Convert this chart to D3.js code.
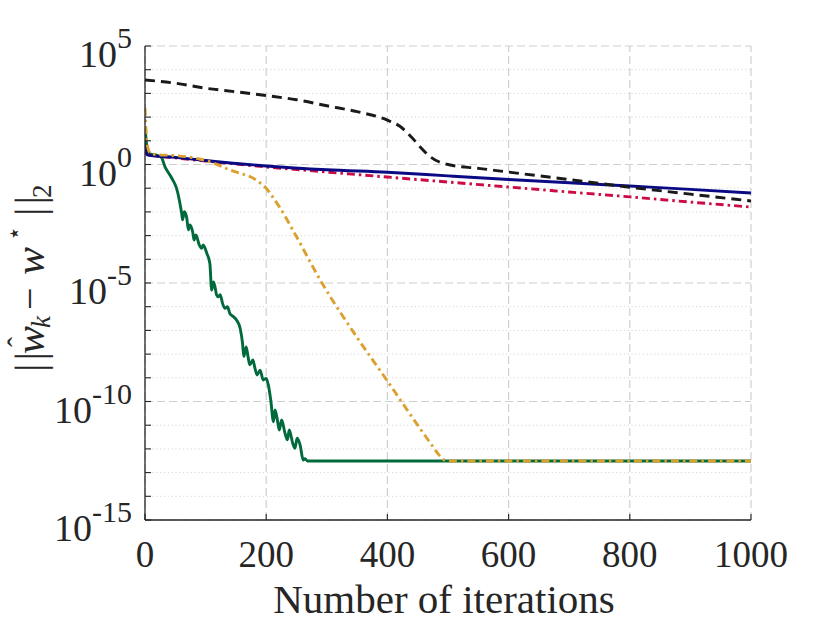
<!DOCTYPE html>
<html>
<head>
<meta charset="utf-8">
<script src="https://cdn.jsdelivr.net/npm/d3@7"></script>
<style>
  body { margin: 0; background: #fff; }
  svg { display: block; }
</style>
</head>
<body>
<div id="chart"></div>
<script>
// Chart size
const width = 830;
const height = 623;
const margin = { top: 46, right: 79, bottom: 103, left: 145 };
const fontFamily = "'Liberation Serif', 'DejaVu Serif', Times, serif";

// Tick values
const xTicks = [0, 200, 400, 600, 800, 1000];
const yMajorExp = [5, 0, -5, -10, -15];
const yMinorExp = d3.range(-15, 6);

// Series: [iteration, error]
const blackDashed = [
  [0, 3700], [50, 2700], [100, 1660], [150, 1170], [200, 810], [250, 540],
  [300, 300], [350, 170], [400, 74], [420, 42], [440, 14], [455, 5.2],
  [470, 2.2], [485, 1.3], [500, 1.0], [550, 0.69], [600, 0.48], [700, 0.23],
  [800, 0.11], [900, 0.056], [1000, 0.029]
];

const blueSolid = [
  [0, 7.1], [2, 3.2], [5, 2.5], [50, 2.0], [100, 1.48], [200, 0.87],
  [300, 0.6], [400, 0.47], [500, 0.33], [600, 0.234], [700, 0.17],
  [800, 0.123], [900, 0.089], [1000, 0.063]
];

const redDashDot = [
  [0, 3.2], [5, 2.6], [50, 1.9], [100, 1.41], [200, 0.79], [300, 0.48],
  [400, 0.295], [500, 0.182], [600, 0.112], [700, 0.069], [800, 0.043],
  [900, 0.026], [1000, 0.016]
];

const orangeDashDot = [
  [0, 250], [2, 20], [4, 6.3], [7, 3.5], [12, 2.8], [20, 2.6], [46, 2.4],
  [70, 2.1], [90, 1.7], [113, 1.15], [140, 0.59], [160, 0.4], [178, 0.27],
  [190, 0.166], [200, 0.1], [210, 0.045], [222, 0.016], [244, 1.7e-3],
  [292, 1e-5], [350, 5e-8], [399, 8e-10], [450, 1e-11], [475, 1.26e-12],
  [485, 5.6e-13], [495, 3.3e-13], [505, 3.1e-13], [1000, 3.1e-13]
];

const greenSolid = [
  [0, 40], [2, 10], [4, 4], [8, 2.8], [20, 2.4], [27, 2.0], [33, 0.8],
  [40, 0.4], [46, 0.22], [52, 0.1], [56.6, 0.032], [60.5, 8.7e-3],
  [62, 4.6e-3], [65, 1.02e-2], [69, 5.4e-3], [71.5, 1.74e-3], [74, 2.8e-3],
  [79, 1.29e-3], [81, 6.5e-4], [84, 1.07e-3], [89.6, 4e-4], [93.5, 2.9e-4],
  [96, 4e-4], [102, 1.78e-4], [107, 6.8e-5], [110, 5e-6], [113, 1.12e-5],
  [115.5, 6.9e-6], [118, 3.2e-6], [121, 2.6e-6], [124, 3.2e-6], [128, 1.38e-6],
  [132, 8.5e-7], [136, 1e-6], [140, 5.2e-7], [146, 3.8e-7], [151, 2.75e-7],
  [157, 1.23e-7], [161, 2.8e-8], [163, 7.9e-9], [167, 2e-8], [170, 7.8e-9],
  [173, 3.5e-9], [178, 5.6e-9], [181.5, 2.5e-9], [185, 1.32e-9], [190, 2.1e-9],
  [195, 8.1e-10], [200, 9.5e-10], [203.5, 5e-10], [207.5, 1.15e-10],
  [212, 1.4e-11], [214.5, 4.4e-11], [218, 1.95e-11], [221.6, 6.3e-12],
  [225.5, 1.66e-11], [231, 4.6e-12], [235, 2.4e-12], [238, 6.3e-12],
  [243.7, 1.74e-12], [247.5, 1.07e-12], [251, 2.8e-12], [256, 1.45e-12],
  [261, 3.4e-13], [264, 3.9e-13], [268, 3.1e-13], [1000, 3.1e-13]
];

// Colours
const cBlack = "#1a1a1a";
const cBlue = "#0a0a84";
const cRed = "#cc0a44";
const cOrange = "#dba12f";
const cGreen = "#006a3c";
const axisColor = "#262626";
const gridColor = "#cfcfcf";

const svg = d3.select('#chart')
    .append('svg')
    .attr('width', width)
    .attr('height', height)
    .attr('font-family', fontFamily)
    .style('font-family', fontFamily);

const innerW = width - margin.left - margin.right;
const innerH = height - margin.top - margin.bottom;

const x = d3.scaleLinear().domain([0, 1000]).range([margin.left, margin.left + innerW]);
const y = d3.scaleLog().domain([1e-15, 1e5]).range([margin.top + innerH, margin.top]);

// Minor grid (every decade, dotted)
svg.append('g')
    .selectAll('line')
    .data(yMinorExp.filter(e => e % 5 !== 0))
    .join('line')
      .attr('x1', x(0)).attr('x2', x(1000))
      .attr('y1', e => y(Math.pow(10, e))).attr('y2', e => y(Math.pow(10, e)))
      .attr('stroke', '#d6d6d6')
      .attr('stroke-width', 1)
      .attr('stroke-dasharray', '1.2,2.6');

// Major grid (dashed)
svg.append('g')
    .selectAll('line')
    .data(yMajorExp)
    .join('line')
      .attr('x1', x(0)).attr('x2', x(1000))
      .attr('y1', e => y(Math.pow(10, e))).attr('y2', e => y(Math.pow(10, e)))
      .attr('stroke', gridColor)
      .attr('stroke-width', 1.2)
      .attr('stroke-dasharray', '8,4');

svg.append('g')
    .selectAll('line')
    .data(xTicks)
    .join('line')
      .attr('x1', d => x(d)).attr('x2', d => x(d))
      .attr('y1', y(1e-15)).attr('y2', y(1e5))
      .attr('stroke', gridColor)
      .attr('stroke-width', 1.2)
      .attr('stroke-dasharray', '8,4');

// Clip to plot area
svg.append('clipPath').attr('id', 'plot-clip')
  .append('rect')
    .attr('x', margin.left).attr('y', margin.top)
    .attr('width', innerW).attr('height', innerH);

const line = d3.line()
    .x(d => x(d[0]))
    .y(d => y(d[1]))
    .curve(d3.curveMonotoneX);

const plot = svg.append('g').attr('clip-path', 'url(#plot-clip)');

// Draw order: bottom to top
const series = [
  { data: greenSolid, color: cGreen, dash: null },
  { data: redDashDot, color: cRed, dash: '8,4,2.5,4' },
  { data: blueSolid, color: cBlue, dash: null },
  { data: orangeDashDot, color: cOrange, dash: '8,4,2.5,4' },
  { data: blackDashed, color: cBlack, dash: '10,6' }
];

plot.selectAll('path')
    .data(series)
    .join('path')
      .attr('d', d => line(d.data))
      .attr('fill', 'none')
      .attr('stroke', d => d.color)
      .attr('stroke-width', 2.9)
      .attr('stroke-linejoin', 'round')
      .attr('stroke-dasharray', d => d.dash);

// Axes: left and bottom lines with inward ticks
svg.append('line')
    .attr('x1', x(0)).attr('x2', x(0))
    .attr('y1', y(1e-15)).attr('y2', y(1e5))
    .attr('stroke', axisColor).attr('stroke-width', 1.3);
svg.append('line')
    .attr('x1', x(0)).attr('x2', x(1000))
    .attr('y1', y(1e-15)).attr('y2', y(1e-15))
    .attr('stroke', axisColor).attr('stroke-width', 1.3);

svg.append('g')
    .selectAll('line')
    .data(yMinorExp)
    .join('line')
      .attr('x1', x(0)).attr('x2', x(0) + 6)
      .attr('y1', e => y(Math.pow(10, e))).attr('y2', e => y(Math.pow(10, e)))
      .attr('stroke', axisColor).attr('stroke-width', 1.1);

svg.append('g')
    .selectAll('line')
    .data(xTicks)
    .join('line')
      .attr('x1', d => x(d)).attr('x2', d => x(d))
      .attr('y1', y(1e-15)).attr('y2', y(1e-15) - 6)
      .attr('stroke', axisColor).attr('stroke-width', 1.1);

// X tick labels
svg.append('g')
    .selectAll('text')
    .data(xTicks)
    .join('text')
      .attr('x', d => x(d))
      .attr('y', y(1e-15) + 47)
      .attr('text-anchor', 'middle')
      .attr('font-size', 37)
      .attr('fill', axisColor)
      .text(d => d);

// Y tick labels 10^e
const yLab = svg.append('g')
    .selectAll('text')
    .data(yMajorExp)
    .join('text')
      .attr('x', x(0) - 13)
      .attr('y', e => y(Math.pow(10, e)) + 21)
      .attr('text-anchor', 'end')
      .attr('font-size', 38)
      .attr('fill', axisColor);
yLab.append('tspan').text('10');
yLab.append('tspan')
    .attr('dy', -19)
    .attr('font-size', 30)
    .text(e => e);

// X axis label
svg.append('text')
    .attr('x', (x(0) + x(1000)) / 2 - 4)
    .attr('y', 613)
    .attr('text-anchor', 'middle')
    .attr('font-size', 41)
    .attr('fill', axisColor)
    .text('Number of iterations');

// Y axis label: ||ŵ_k − w*||_2, rotated
const yl = svg.append('g')
    .attr('transform', 'translate(44,372) rotate(-90)')
    .attr('fill', axisColor);
yl.append('text').attr('x', 0).attr('y', 0).attr('font-size', 42).attr('letter-spacing', 3).text('||');
yl.append('text').attr('x', 18).attr('y', 0).attr('font-size', 42).attr('font-style', 'italic').text('w');
yl.append('text').attr('x', 25).attr('y', -16).attr('font-size', 30).text('\u02C6');
yl.append('text').attr('x', 44).attr('y', 6).attr('font-size', 27).attr('font-style', 'italic').text('k');
yl.append('text').attr('x', 62).attr('y', -1).attr('font-size', 40).text('\u2212');
yl.append('text').attr('x', 97).attr('y', 0).attr('font-size', 42).attr('font-style', 'italic').text('w');
yl.append('text').attr('x', 131).attr('y', -22).attr('font-size', 24).text('\u22C6');
yl.append('text').attr('x', 156).attr('y', 0).attr('font-size', 42).attr('letter-spacing', 3).text('||');
yl.append('text').attr('x', 174).attr('y', 7).attr('font-size', 27).text('2');
</script>
</body>
</html>
